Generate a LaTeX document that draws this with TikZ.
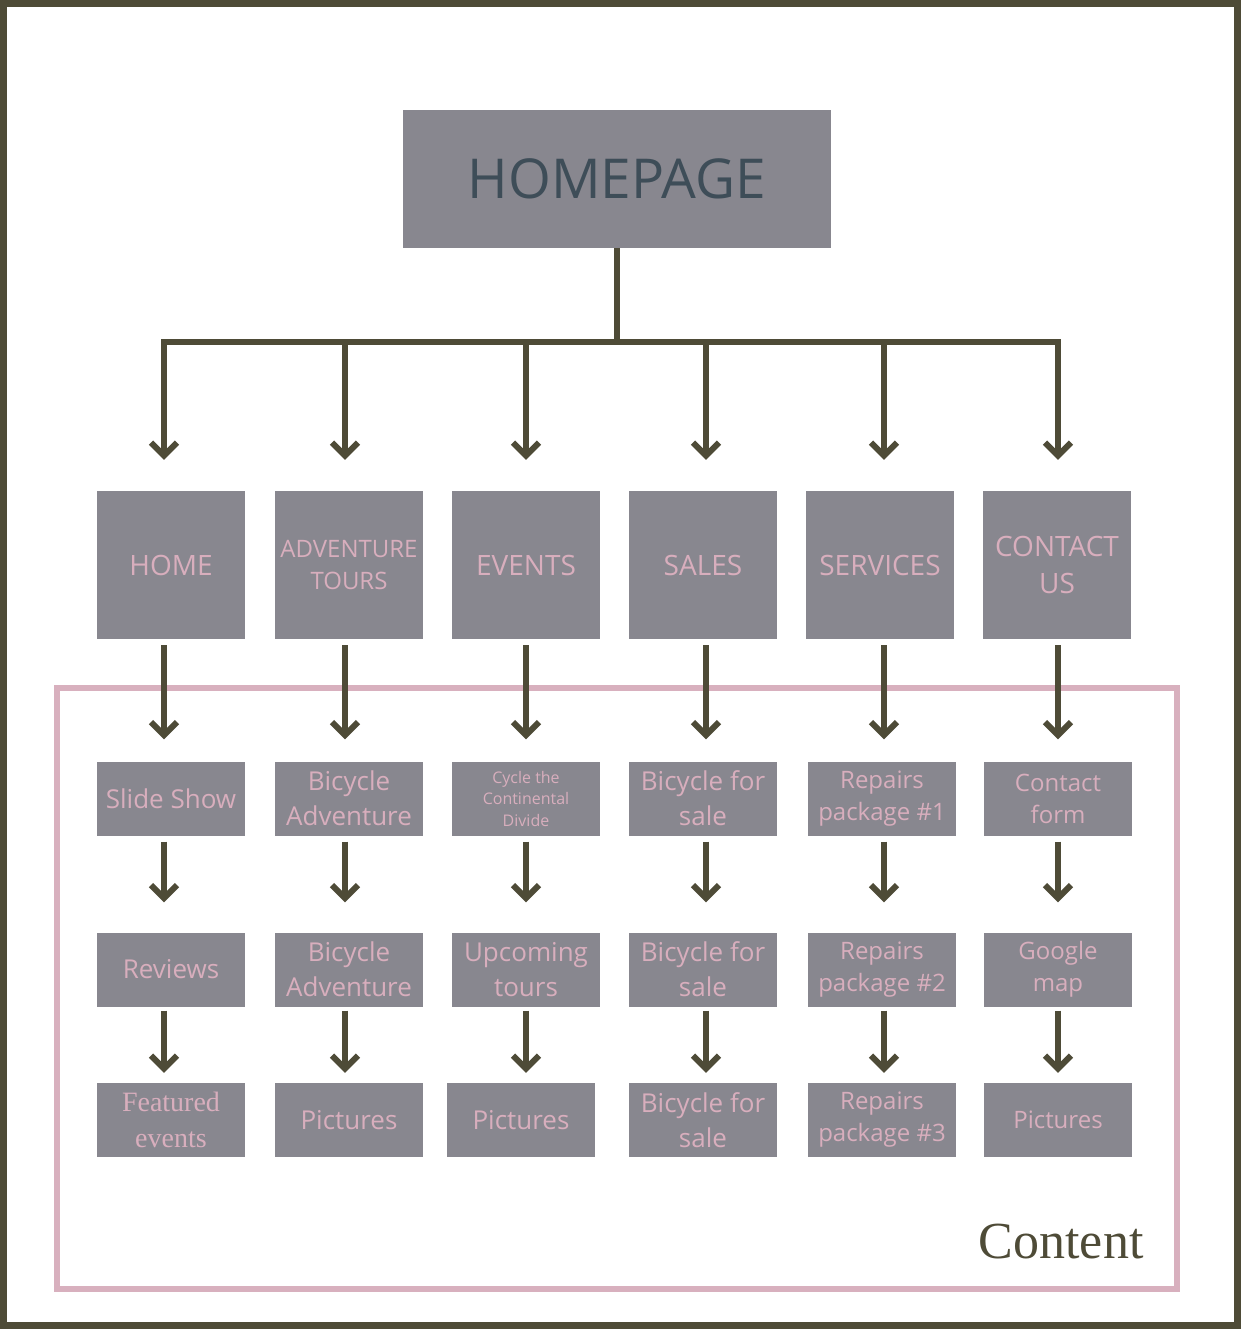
\documentclass[tikz,border=0pt]{standalone}
\usepackage{fontspec}
\setmainfont{Open Sans}
\newfontfamily\slab{Liberation Serif}
\usetikzlibrary{arrows.meta}
\definecolor{boxgray}{HTML}{88878F}
\definecolor{pinktext}{HTML}{D8AEBD}
\definecolor{olive}{HTML}{4E4B37}
\definecolor{slate}{HTML}{3E4D58}
\definecolor{pinkframe}{HTML}{D8B0BE}
\newcommand{\tabfont}{\fontsize{28}{37}\selectfont}
\newcommand{\narrowfont}{\fontsize{24}{32}\selectfont}
\newcommand{\bodyfont}{\fontsize{26}{35}\selectfont}
\newcommand{\tinyfont}{\fontsize{16}{21.5}\selectfont}
\newcommand{\serfont}{\slab\fontsize{28}{36}\selectfont}
\tikzset{
  page/.style={fill=boxgray, text=pinktext, inner sep=0pt, align=center, minimum width=148pt},
  tabbox/.style={page, minimum height=148pt},
  subbox/.style={page, minimum height=74pt},
  link/.style={draw=olive, line width=6pt, -{Straight Barb[length=13pt,width=26pt,line width=6pt]}},
}
\begin{document}
\begin{tikzpicture}[x=1pt,y=-1pt]
    \useasboundingbox (0,0) rectangle (1241,1329);
    \path[draw=olive, line width=7pt] (3.5,3.5) rectangle (1237.5,1325.5);
    \path[draw=pinkframe, line width=6pt] (56.5,687.5) rectangle (1176.5,1289);

    \node[page, minimum width=428pt, minimum height=138pt, text=slate, font=\fontsize{55}{60}\selectfont] (homepage) at (617,179) {HOMEPAGE};

    % columns of the arrows
    \foreach \i/\x in {1/164,2/345,3/526,4/706,5/884,6/1058}
      \coordinate (c\i) at (\x,342);
    \coordinate (barL) at (161,342);
    \coordinate (barR) at (1060,342);

    \foreach \i/\x/\f/\t in {1/171/\tabfont/HOME, 2/349/\narrowfont/{ADVENTURE\\TOURS}, 3/526/\tabfont/EVENTS, 4/703/\tabfont/SALES, 5/880/\tabfont/SERVICES, 6/1057/\tabfont/{CONTACT\\US}}
      \node[tabbox, font=\f] (tab\i) at (\x,565) {\t};

    \foreach \i/\x/\f/\t in {1/171/\bodyfont/Slide Show, 2/349/\bodyfont/{Bicycle\\Adventure}, 3/526/\tinyfont/{Cycle the\\Continental\\Divide}, 4/703/\bodyfont/{Bicycle for\\sale}, 5/882/\narrowfont/{Repairs\\package \#1}, 6/1058/\narrowfont/{Contact\\form}}
      \node[subbox, font=\f] (sub\i) at (\x,798.5) {\t};

    \foreach \i/\x/\f/\t in {1/171/\bodyfont/Reviews, 2/349/\bodyfont/{Bicycle\\Adventure}, 3/526/\bodyfont/{Upcoming\\tours}, 4/703/\bodyfont/{Bicycle for\\sale}, 5/882/\narrowfont/{Repairs\\package \#2}, 6/1058/\narrowfont/{Google\\map}}
      \node[subbox, font=\f] (more\i) at (\x,969.5) {\t};

    \foreach \i/\x/\f/\t in {1/171/\serfont/{Featured\\events}, 2/349/\bodyfont/Pictures, 3/521/\bodyfont/Pictures, 4/703/\bodyfont/{Bicycle for\\sale}, 5/882/\narrowfont/{Repairs\\package \#3}, 6/1058/\narrowfont/Pictures}
      \node[subbox, font=\f] (last\i) at (\x,1120) {\t};

    \node[anchor=base east, text=olive, font=\slab\fontsize{52}{60}\selectfont] (content) at (1147,1258) {Content};

    % connectors
    \path[draw=olive, line width=6pt] (homepage.south) -- (homepage.south |- barL);
    \path[draw=olive, line width=6pt] (barL) -- (barR);
    \foreach \i in {1,...,6} {
      \path[link, shorten >=31pt] ([yshift=3pt]c\i) -- (tab\i.north -| c\i);
      \path[link, shorten <=6pt, shorten >=22pt] (tab\i.south -| c\i) -- (sub\i.north -| c\i);
      \path[link, shorten <=6pt, shorten >=30pt] (sub\i.south -| c\i) -- (more\i.north -| c\i);
      \path[link, shorten <=4pt, shorten >=10pt] (more\i.south -| c\i) -- (last\i.north -| c\i);
    }
\end{tikzpicture}
\end{document}
